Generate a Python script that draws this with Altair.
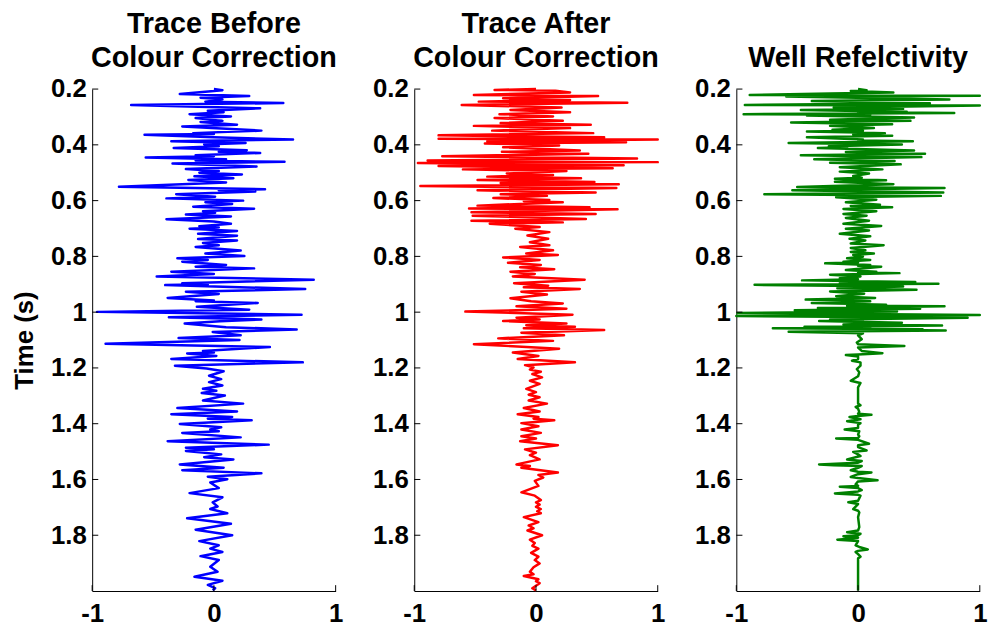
import altair as alt
import pandas as pd

FONT = "Liberation Sans"
W = 245.7
H = 506.5

# ---- Trace before colour correction (time s, amplitude) ----
t_before = [0.200, 0.204, 0.218, 0.225, 0.231, 0.237, 0.245, 0.250, 0.257, 0.269, 0.278, 0.283, 0.290, 0.298, 0.304,
            0.314, 0.318, 0.328, 0.334, 0.349, 0.358, 0.361, 0.364, 0.373, 0.381, 0.387, 0.393, 0.399, 0.405, 0.411,
            0.419, 0.425, 0.429, 0.437, 0.441, 0.445, 0.452, 0.456, 0.461, 0.467, 0.478, 0.487, 0.494, 0.500, 0.506,
            0.513, 0.520, 0.526, 0.535, 0.550, 0.559, 0.563, 0.567, 0.577, 0.586, 0.592, 0.600, 0.606, 0.612, 0.622,
            0.629, 0.638, 0.644, 0.650, 0.657, 0.667, 0.675, 0.683, 0.692, 0.696, 0.701, 0.709, 0.719, 0.726, 0.738,
            0.743, 0.752, 0.760, 0.766, 0.779, 0.790, 0.799, 0.807, 0.813, 0.819, 0.831, 0.837, 0.843, 0.855, 0.863,
            0.872, 0.884, 0.896, 0.900, 0.903, 0.917, 0.927, 0.935, 0.949, 0.958, 0.961, 0.967, 0.981, 0.991, 0.999,
            1.009, 1.018, 1.026, 1.033, 1.041, 1.054, 1.062, 1.071, 1.083, 1.093, 1.100, 1.113, 1.125, 1.139, 1.145,
            1.148, 1.157, 1.168, 1.180, 1.192, 1.202, 1.212, 1.228, 1.240, 1.251, 1.263, 1.275, 1.282, 1.290, 1.299,
            1.317, 1.328, 1.344, 1.356, 1.366, 1.376, 1.382, 1.388, 1.401, 1.413, 1.421, 1.427, 1.433, 1.449, 1.463,
            1.475, 1.486, 1.492, 1.498, 1.510, 1.520, 1.528, 1.546, 1.558, 1.567, 1.578, 1.590, 1.599, 1.611, 1.631,
            1.649, 1.664, 1.682, 1.697, 1.706, 1.721, 1.739, 1.759, 1.780, 1.800, 1.821, 1.836, 1.848, 1.860, 1.875,
            1.889, 1.913, 1.931, 1.949, 1.963, 1.978, 1.990, 1.998]
a_before = [0.00, 0.07, -0.28, 0.29, -0.11, 0.07, -0.07, 0.57, -0.68, 0.38, -0.05, 0.08, -0.20, 0.14, -0.15,
            0.07, -0.11, 0.19, -0.26, 0.39, -0.17, 0.00, -0.57, 0.00, 0.65, -0.35, 0.26, -0.08, 0.04, -0.33,
            0.27, 0.04, 0.38, -0.15, 0.00, -0.56, 0.10, -0.15, 0.58, -0.34, 0.35, -0.23, 0.04, -0.12, 0.23,
            -0.16, 0.16, -0.21, 0.10, -0.78, 0.42, 0.04, 0.34, -0.31, 0.01, -0.39, 0.24, -0.07, 0.15, -0.17,
            0.33, -0.09, 0.01, -0.23, 0.14, -0.39, 0.00, 0.14, -0.12, 0.04, -0.20, 0.19, -0.13, 0.19, -0.13,
            0.19, -0.09, 0.04, -0.15, 0.22, -0.07, 0.25, -0.30, -0.05, -0.26, 0.10, -0.15, 0.33, -0.35, 0.00,
            -0.47, 0.82, -0.26, -0.05, -0.40, 0.75, -0.23, 0.04, -0.38, 0.00, -0.15, 0.36, -0.14, 0.29, -0.96,
            0.72, -0.37, 0.39, 0.05, -0.24, 0.10, 0.68, -0.01, 0.22, -0.29, 0.21, -0.89, 0.46, -0.09, 0.00,
            -0.22, 0.02, -0.35, 0.73, -0.32, -0.06, 0.08, -0.04, 0.06, -0.04, 0.07, -0.09, 0.02, -0.10, 0.09,
            -0.09, 0.24, -0.30, 0.19, -0.35, 0.15, -0.05, 0.31, -0.28, 0.06, -0.03, 0.04, -0.26, 0.22, -0.38,
            0.45, -0.23, 0.00, -0.23, 0.06, -0.08, 0.16, -0.28, 0.08, -0.26, 0.39, -0.05, 0.11, -0.03, 0.04,
            -0.20, 0.07, -0.01, 0.03, -0.03, 0.11, -0.22, 0.14, -0.15, 0.15, -0.12, 0.04, -0.03, 0.07, -0.11,
            0.04, -0.03, 0.03, -0.16, 0.07, -0.05, 0.01, -0.01]

# ---- Trace after colour correction ----
t_after = [0.200, 0.203, 0.206, 0.212, 0.221, 0.225, 0.233, 0.239, 0.245, 0.249, 0.257, 0.266, 0.275, 0.283, 0.290,
           0.298, 0.304, 0.314, 0.322, 0.328, 0.332, 0.340, 0.349, 0.358, 0.366, 0.373, 0.378, 0.381, 0.387, 0.391,
           0.395, 0.402, 0.409, 0.420, 0.425, 0.432, 0.441, 0.449, 0.456, 0.462, 0.465, 0.473, 0.476, 0.484, 0.488,
           0.494, 0.503, 0.508, 0.514, 0.520, 0.526, 0.533, 0.537, 0.541, 0.548, 0.555, 0.563, 0.571, 0.577, 0.583,
           0.591, 0.598, 0.602, 0.606, 0.618, 0.624, 0.628, 0.631, 0.642, 0.648, 0.654, 0.666, 0.672, 0.678, 0.683,
           0.695, 0.701, 0.713, 0.725, 0.737, 0.749, 0.760, 0.766, 0.778, 0.790, 0.795, 0.804, 0.813, 0.823, 0.831,
           0.839, 0.846, 0.855, 0.863, 0.872, 0.884, 0.896, 0.905, 0.911, 0.917, 0.927, 0.937, 0.950, 0.961, 0.969,
           0.979, 0.988, 0.998, 1.009, 1.020, 1.026, 1.032, 1.041, 1.047, 1.052, 1.058, 1.064, 1.074, 1.083, 1.094,
           1.103, 1.115, 1.131, 1.145, 1.157, 1.168, 1.180, 1.190, 1.198, 1.206, 1.214, 1.222, 1.234, 1.246, 1.257,
           1.275, 1.287, 1.296, 1.305, 1.317, 1.328, 1.344, 1.356, 1.366, 1.376, 1.382, 1.388, 1.398, 1.409, 1.421,
           1.433, 1.445, 1.453, 1.463, 1.477, 1.492, 1.504, 1.513, 1.528, 1.546, 1.552, 1.558, 1.575, 1.584, 1.593,
           1.605, 1.623, 1.646, 1.658, 1.674, 1.682, 1.690, 1.698, 1.706, 1.714, 1.721, 1.735, 1.753, 1.765, 1.775,
           1.783, 1.800, 1.816, 1.828, 1.838, 1.848, 1.863, 1.877, 1.889, 1.901, 1.915, 1.931, 1.940, 1.946, 1.958,
           1.965, 1.972, 1.990, 1.998]
a_after = [0.00, -0.34, 0.16, 0.28, -0.51, 0.51, -0.27, 0.28, -0.47, 0.75, -0.61, 0.21, -0.21, 0.28, -0.30,
           0.14, -0.34, 0.22, -0.29, 0.45, -0.51, 0.28, -0.36, 0.47, -0.80, 0.56, -0.80, 1.00, -0.40, 0.74,
           -0.42, 0.19, -0.27, 0.36, -0.28, 0.43, -0.77, 0.83, -0.89, 1.00, -0.97, 0.72, -0.80, 0.63, -0.60,
           0.25, -0.24, 0.14, -0.40, 0.37, -0.48, 0.48, -0.29, 0.68, -0.95, 0.66, -0.48, 0.49, -0.29, 0.09,
           -0.35, 0.11, -0.10, 0.22, -0.48, 0.44, -0.55, 0.67, -0.53, 0.49, -0.52, 0.41, -0.53, 0.22, -0.38,
           0.03, -0.17, 0.11, -0.07, 0.10, -0.05, 0.11, -0.13, 0.14, -0.08, 0.18, -0.27, 0.03, -0.23, 0.04,
           -0.13, 0.15, -0.21, -0.01, -0.19, 0.40, -0.18, 0.10, -0.10, 0.36, -0.12, 0.09, -0.21, -0.04, 0.22,
           -0.16, 0.25, -0.58, 0.30, -0.16, 0.03, -0.27, 0.25, -0.08, 0.32, -0.10, 0.56, -0.12, 0.23, -0.31,
           0.14, -0.51, 0.19, -0.19, 0.02, -0.15, 0.32, -0.09, -0.02, -0.05, 0.04, -0.03, 0.05, -0.05, 0.03,
           -0.08, 0.00, -0.06, 0.03, -0.06, 0.09, -0.10, 0.03, -0.15, 0.02, -0.02, 0.15, -0.12, 0.02, -0.12,
           0.04, -0.12, 0.00, -0.13, 0.18, -0.09, 0.00, -0.05, 0.03, -0.16, -0.05, -0.12, 0.18, 0.02, 0.06,
           -0.01, 0.02, -0.12, -0.01, 0.04, 0.00, 0.03, 0.00, 0.04, 0.01, 0.04, -0.10, 0.02, -0.06, -0.02,
           -0.07, 0.05, -0.05, -0.01, -0.03, 0.02, -0.04, 0.02, -0.01, 0.03, -0.02, -0.05, -0.02, -0.10, 0.02,
           0.00, 0.03, -0.03, 0.00]

# ---- Well reflectivity ----
t_well = [0.200, 0.204, 0.207, 0.212, 0.216, 0.221, 0.224, 0.227, 0.233, 0.237, 0.243, 0.251, 0.257, 0.259, 0.266,
          0.271, 0.275, 0.281, 0.283, 0.286, 0.290, 0.292, 0.295, 0.302, 0.310, 0.314, 0.320, 0.326, 0.332, 0.340,
          0.346, 0.349, 0.352, 0.358, 0.364, 0.367, 0.373, 0.381, 0.384, 0.387, 0.393, 0.399, 0.405, 0.409, 0.411,
          0.420, 0.426, 0.432, 0.437, 0.444, 0.452, 0.458, 0.464, 0.470, 0.480, 0.488, 0.496, 0.503, 0.512, 0.518,
          0.522, 0.527, 0.532, 0.541, 0.551, 0.555, 0.563, 0.571, 0.577, 0.583, 0.588, 0.597, 0.606, 0.615, 0.619,
          0.624, 0.630, 0.638, 0.648, 0.654, 0.662, 0.672, 0.683, 0.691, 0.701, 0.707, 0.719, 0.728, 0.737, 0.743,
          0.754, 0.760, 0.770, 0.778, 0.784, 0.790, 0.795, 0.801, 0.807, 0.813, 0.819, 0.822, 0.825, 0.831, 0.834,
          0.837, 0.849, 0.855, 0.858, 0.860, 0.866, 0.872, 0.878, 0.882, 0.886, 0.892, 0.896, 0.898, 0.902, 0.908,
          0.914, 0.920, 0.926, 0.934, 0.943, 0.949, 0.955, 0.961, 0.967, 0.973, 0.977, 0.979, 0.985, 0.988, 0.993,
          0.998, 1.003, 1.010, 1.014, 1.020, 1.026, 1.030, 1.032, 1.038, 1.044, 1.048, 1.052, 1.055, 1.058, 1.061,
          1.063, 1.066, 1.070, 1.076, 1.083, 1.097, 1.109, 1.115, 1.121, 1.127, 1.139, 1.147, 1.152, 1.154, 1.159,
          1.168, 1.174, 1.180, 1.192, 1.204, 1.216, 1.230, 1.246, 1.252, 1.254, 1.270, 1.328, 1.334, 1.340, 1.346,
          1.358, 1.364, 1.368, 1.372, 1.376, 1.384, 1.391, 1.398, 1.404, 1.415, 1.421, 1.427, 1.439, 1.445, 1.451,
          1.453, 1.458, 1.472, 1.477, 1.484, 1.496, 1.501, 1.510, 1.516, 1.528, 1.534, 1.540, 1.546, 1.549, 1.552,
          1.558, 1.567, 1.572, 1.575, 1.581, 1.591, 1.595, 1.603, 1.607, 1.617, 1.623, 1.626, 1.631, 1.638, 1.643,
          1.650, 1.655, 1.658, 1.676, 1.682, 1.688, 1.706, 1.712, 1.718, 1.735, 1.771, 1.783, 1.789, 1.795, 1.800,
          1.804, 1.809, 1.816, 1.821, 1.836, 1.842, 1.851, 1.856, 1.860, 1.868, 1.877, 1.883, 1.998]
a_well = [0.00, 0.07, -0.06, 0.29, -0.23, -0.89, 1.00, -0.59, 0.22, 0.75, -0.38, 0.59, -0.93, 1.00, -0.20,
          0.37, -0.47, 0.40, 0.00, 0.79, -0.94, 0.10, -0.42, 0.46, -0.23, 0.43, -0.55, 0.28, -0.23, 0.13,
          -0.21, 0.04, -0.42, 0.22, -0.04, 0.28, -0.42, 0.04, 0.00, 0.45, -0.57, 0.36, -0.24, -0.09, -0.33,
          0.46, -0.10, 0.55, -0.47, 0.52, -0.36, 0.30, -0.23, 0.35, -0.15, 0.20, -0.15, 0.09, -0.04, 0.03,
          -0.19, 0.23, -0.19, 0.29, -0.50, 0.71, -0.54, 0.70, -0.77, 0.68, -0.18, 0.15, -0.10, 0.18, -0.06,
          0.28, -0.12, 0.15, -0.12, 0.07, -0.10, 0.09, -0.12, 0.19, -0.10, 0.09, -0.15, 0.10, -0.07, 0.06,
          -0.06, 0.21, -0.06, 0.06, -0.06, 0.13, -0.04, 0.04, -0.09, 0.10, -0.12, 0.00, -0.27, 0.10, 0.00,
          0.19, -0.10, 0.15, 0.00, 0.34, -0.23, 0.02, -0.15, 0.00, -0.46, 0.47, -0.15, 0.66, -0.85, 0.37,
          -0.17, 0.48, -0.23, 0.05, -0.18, 0.14, -0.43, 0.10, -0.38, 0.23, -0.09, 0.71, -0.33, 0.51, -0.52,
          0.32, -0.99, 1.00, -1.00, 0.90, -0.23, 0.04, -0.32, 0.36, -0.12, 0.69, -0.44, 0.10, -0.70, 0.53,
          0.20, 0.72, -0.57, 0.04, 0.00, 0.03, -0.01, 0.00, 0.38, 0.00, 0.03, 0.20, 0.00, -0.10, 0.00,
          0.00, -0.05, 0.02, 0.02, -0.01, 0.01, 0.00, -0.06, 0.00, 0.02, 0.00, 0.00, 0.02, -0.02, 0.00,
          0.01, 0.00, 0.11, 0.00, -0.07, 0.02, -0.09, 0.02, 0.00, 0.00, -0.11, 0.01, 0.00, 0.01, 0.00,
          -0.18, 0.00, 0.09, 0.00, 0.00, 0.07, -0.04, 0.00, 0.02, -0.09, 0.03, 0.00, -0.32, -0.20, 0.03,
          0.00, -0.06, 0.00, 0.11, 0.00, -0.06, 0.00, 0.16, 0.00, -0.02, 0.00, -0.15, 0.00, 0.03, 0.00,
          -0.19, 0.00, 0.02, 0.00, -0.08, 0.00, -0.04, 0.00, 0.01, 0.00, 0.01, 0.00, -0.09, 0.02, 0.00,
          -0.12, 0.00, -0.17, 0.00, -0.02, 0.01, 0.08, 0.00, -0.02, 0.00, 0.02, 0.00, 0.00]

y_ticks = [0.2, 0.4, 0.6, 0.8, 1.0, 1.2, 1.4, 1.6, 1.8]
x_ticks = [-1, 0, 1]
titles = [["Trace Before", "Colour Correction"], ["Trace After", "Colour Correction"], ["Well Refelctivity"]]
colors = ["#0000ff", "#ff0000", "#008000"]


def x_enc():
    return alt.X("a:Q", scale=alt.Scale(domain=[-1, 1], nice=False, zero=False),
                 axis=alt.Axis(values=x_ticks, title=None, grid=False, ticks=False, domain=True,
                               domainColor="black", domainWidth=1, labelFont=FONT, labelFontSize=26,
                               labelFontWeight="bold", labelColor="black", labelPadding=10,
                               labelFlush=False, labelOverlap=False,
                               labelExpr="'' + datum.value"))


def y_enc(ytitle):
    kw = dict(values=y_ticks, grid=False, ticks=False, domain=True, domainColor="black",
              domainWidth=1, labelFont=FONT, labelFontSize=26, labelFontWeight="bold",
              labelColor="black", labelPadding=6, labelFlush=False, labelOverlap=False,
              labelExpr="'' + datum.value")
    if ytitle:
        kw.update(title=ytitle, titleFont=FONT, titleFontSize=26, titleFontWeight="bold",
                  titleColor="black", titleAngle=270, titleX=-60, titleY=H / 2,
                  titleAlign="center", titleBaseline="alphabetic")
    else:
        kw.update(title=None)
    return alt.Y("t:Q", scale=alt.Scale(domain=[0.2, 2.0], reverse=True, nice=False, zero=False),
                 axis=alt.Axis(**kw))


def panel(t, a, color, title, ytitle):
    df = pd.DataFrame({"t": t, "a": a})
    line = alt.Chart(df).mark_line(color=color, strokeWidth=2.5, strokeJoin="round").encode(
        x=x_enc(), y=y_enc(ytitle), order=alt.Order("t:Q"))
    ydf = pd.DataFrame({"t": y_ticks, "a": [-1.0] * len(y_ticks), "a2": [-0.95] * len(y_ticks)})
    ytk = alt.Chart(ydf).mark_rule(color="black", strokeWidth=1).encode(
        x=x_enc(), x2="a2:Q", y=y_enc(ytitle))
    xdf = pd.DataFrame({"a": x_ticks, "t": [2.0] * 3, "t2": [1.979] * 3})
    xtk = alt.Chart(xdf).mark_rule(color="black", strokeWidth=1).encode(
        x=x_enc(), y=y_enc(ytitle), y2="t2:Q")
    return alt.layer(line, ytk, xtk).properties(
        width=W, height=H,
        title=alt.TitleParams(text=title, font=FONT, fontSize=29, fontWeight="bold", color="black",
                              anchor="middle", frame="group", baseline="bottom", lineHeight=34,
                              offset=-25.5))


p1 = panel(t_before, a_before, colors[0], titles[0], "Time (s)")
p2 = panel(t_after, a_after, colors[1], titles[1], None)
p3 = panel(t_well, a_well, colors[2], titles[2], None)

chart = alt.hconcat(p1, p2, p3, spacing=79, bounds="flush").properties(
    padding={"left": 12, "top": 7, "right": 5, "bottom": 5}, background="white"
).configure_view(strokeWidth=0)

chart.save("out.html", embed_options={"renderer": "svg", "actions": False})
